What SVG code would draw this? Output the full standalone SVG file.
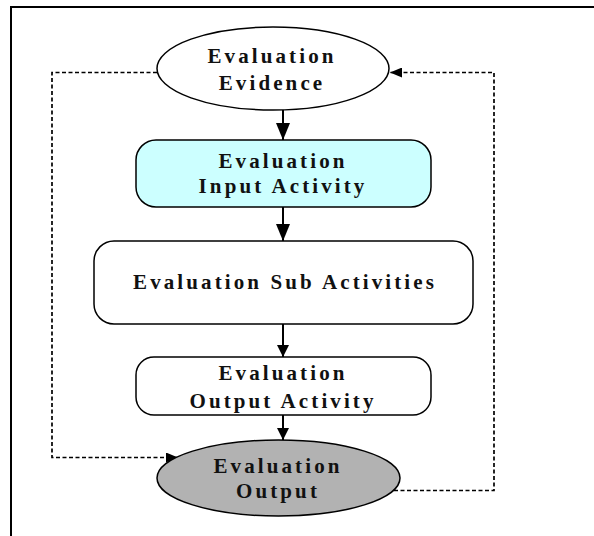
<svg xmlns="http://www.w3.org/2000/svg" width="594" height="536" viewBox="0 0 594 536">
  <style>
    .frame { fill: none; stroke: #000; stroke-width: 2; }
    .node { stroke: #000; stroke-width: 1.5; }
    .label { font-family: "Liberation Serif", "Times New Roman", serif; font-weight: bold; font-size: 21px; letter-spacing: 3.1px; fill: #111; text-anchor: middle; }
    .flow { fill: none; stroke: #000; stroke-width: 2; }
    .loop { fill: none; stroke: #000; stroke-width: 1.7; stroke-dasharray: 4 2.5; }
  </style>
  <defs>
    <marker id="solidHead" viewBox="0 0 17 14" refX="17" refY="7" markerWidth="17" markerHeight="14" markerUnits="userSpaceOnUse" orient="auto">
      <path d="M0,0 L17,7 L0,14 Z" fill="#000"/>
    </marker>
    <marker id="smallHead" viewBox="0 0 12 12" refX="12" refY="6" markerWidth="12" markerHeight="12" markerUnits="userSpaceOnUse" orient="auto">
      <path d="M0,0 L12,6 L0,12 Z" fill="#000"/>
    </marker>
    <marker id="dashHead" viewBox="0 0 12 10" refX="12" refY="5" markerWidth="12" markerHeight="10" markerUnits="userSpaceOnUse" orient="auto">
      <path d="M0,0 L12,5 L0,10 Z" fill="#000"/>
    </marker>
  </defs>

  <!-- outer frame (top and left edges) -->
  <path class="frame" d="M11,536 L11,7 L594,7"/>

  <g id="connectors">
    <line class="flow" x1="283" y1="110" x2="283" y2="140" marker-end="url(#solidHead)"/>
    <line class="flow" x1="283" y1="207" x2="283" y2="241" marker-end="url(#solidHead)"/>
    <line class="flow" x1="283" y1="324" x2="283" y2="357" marker-end="url(#smallHead)"/>
    <line class="flow" x1="283" y1="415" x2="283" y2="440" marker-end="url(#smallHead)"/>
    <!-- feedback loops -->
    <polyline class="loop" points="157,72.5 52,72.5 52,457.5 178,457.5" marker-end="url(#dashHead)"/>
    <polyline class="loop" points="394,490.5 494,490.5 494,72.5 390,72.5" marker-end="url(#dashHead)"/>
  </g>

  <g id="evaluation-evidence">
    <ellipse class="node" cx="273" cy="68.5" rx="116" ry="41.5" fill="#fff"/>
    <text class="label" x="272" y="63">Evaluation</text>
    <text class="label" x="272" y="90">Evidence</text>
  </g>

  <g id="evaluation-input-activity">
    <rect class="node" x="136" y="140" width="295" height="67" rx="20" ry="20" fill="#ccffff"/>
    <text class="label" x="283" y="168">Evaluation</text>
    <text class="label" x="283" y="193">Input Activity</text>
  </g>

  <g id="evaluation-sub-activities">
    <rect class="node" x="94" y="241" width="379" height="83" rx="20" ry="20" fill="#fff"/>
    <text class="label" x="285" y="289">Evaluation Sub Activities</text>
  </g>

  <g id="evaluation-output-activity">
    <rect class="node" x="136" y="357" width="295" height="58" rx="18" ry="18" fill="#fff"/>
    <text class="label" x="283" y="380">Evaluation</text>
    <text class="label" x="283" y="408">Output Activity</text>
  </g>

  <g id="evaluation-output">
    <ellipse class="node" cx="278.5" cy="478" rx="121.5" ry="38" fill="#b2b2b2"/>
    <text class="label" x="278" y="473">Evaluation</text>
    <text class="label" x="278" y="498">Output</text>
  </g>
</svg>
